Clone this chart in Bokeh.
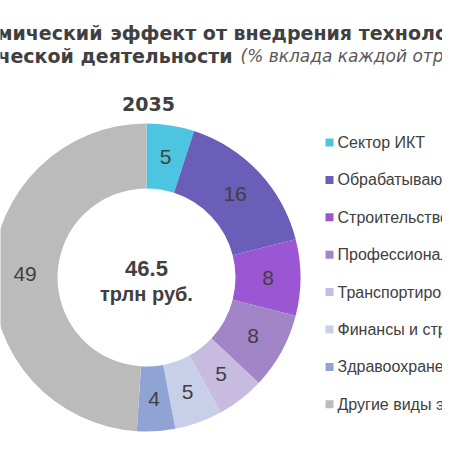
import numpy as np
from bokeh.plotting import figure
from bokeh.models import ColumnDataSource, Range1d
from bokeh.core.properties import value
from bokeh.embed import file_html
from bokeh.resources import INLINE

# data
sectors = [
    "Сектор ИКТ",
    "Обрабатывающая промышленность",
    "Строительство",
    "Профессиональная, научная и техническая деятельность",
    "Транспортировка и хранение",
    "Финансы и страхование",
    "Здравоохранение",
    "Другие виды экономической деятельности",
]
shares = [5, 16, 8, 8, 5, 5, 4, 49]
colors = ["#4DC4E0", "#6A5EB8", "#9B56D3", "#A285C6",
          "#C7BCE0", "#C7CFE9", "#8FA4D4", "#BBBBBB"]
year = "2035"
total = "46.5"
unit = "трлн руб."
title_1a = "Экономический"
title_1b = "эффект от внедрения технологий"
title_2 = "экономической деятельности"
title_2_note = "(% вклада каждой отрасли)"

FONT = "Liberation Sans"
TFONT = "DejaVu Sans"
TXT = "#404040"

# figure in picture pixels, y axis points up
def fy(ry):
    return 450 - ry

p = figure(width=442, height=442, output_backend="svg", toolbar_location=None,
           x_range=Range1d(0, 442), y_range=Range1d(8, 450))
p.min_border = 0
p.axis.visible = False
p.grid.visible = False
p.outline_line_color = None

# donut
cx, cy = 146, fy(277)
r_in, r_out = 89, 154
frac = np.array(shares) / sum(shares)
cum = np.concatenate([[0], np.cumsum(frac)])
start = np.pi / 2 - 2 * np.pi * cum[:-1]
end = np.pi / 2 - 2 * np.pi * cum[1:]
mid = (start + end) / 2
r_lab = (r_in + r_out) / 2

src = ColumnDataSource(data=dict(
    start=start, end=end, color=colors, sector=sectors,
    lx=cx + r_lab * np.cos(mid), ly=cy + r_lab * np.sin(mid),
    lab=[str(s) for s in shares],
))
p.annular_wedge(x=cx, y=cy, inner_radius=r_in, outer_radius=r_out,
                start_angle="start", end_angle="end", direction="clock",
                fill_color="color", line_color=None, source=src)
p.text(x="lx", y="ly", text="lab", source=src, text_align="center",
       text_baseline="middle", text_font=value(FONT), text_font_size="21px",
       text_color=TXT)

# centre text
p.text(x=[cx], y=[fy(268)], text=[total], text_align="center",
       text_baseline="alphabetic", text_font=value(FONT), text_font_size="22px",
       text_font_style="bold", text_color=TXT)
p.text(x=[cx], y=[fy(293)], text=[unit], text_align="center",
       text_baseline="alphabetic", text_font=value(FONT), text_font_size="20px",
       text_font_style="bold", text_color=TXT)

# titles
p.text(x=[102], y=[fy(32)], text=[title_1a], text_align="right",
       text_baseline="alphabetic", text_font=value(TFONT), text_font_size="19px",
       text_font_style="bold", text_color=TXT)
p.text(x=[110], y=[fy(32)], text=[title_1b], text_align="left",
       text_baseline="alphabetic", text_font=value(TFONT), text_font_size="19px",
       text_font_style="bold", text_color=TXT)
p.text(x=[232], y=[fy(55)], text=[title_2], text_align="right",
       text_baseline="alphabetic", text_font=value(TFONT), text_font_size="19px",
       text_font_style="bold", text_color=TXT)
p.text(x=[240], y=[fy(55)], text=[title_2_note], text_align="left",
       text_baseline="alphabetic", text_font=value(TFONT), text_font_size="17px",
       text_font_style="italic", text_color="#595959")
p.text(x=[148], y=[fy(103)], text=[year], text_align="center",
       text_baseline="alphabetic", text_font=value(TFONT), text_font_size="19px",
       text_font_style="bold", text_color=TXT)

# legend
row_y = [fy(142 + 37.4 * i) for i in range(len(sectors))]
leg = ColumnDataSource(data=dict(y=row_y, color=colors, sector=sectors))
p.rect(x=329, y="y", width=8, height=8, fill_color="color", line_color=None,
       source=leg)
p.text(x=337, y="y", text="sector", source=leg, text_align="left",
       text_baseline="middle", text_font=value(FONT), text_font_size="16px",
       text_color=TXT)

open("out.html", "w").write(file_html(p, INLINE))
